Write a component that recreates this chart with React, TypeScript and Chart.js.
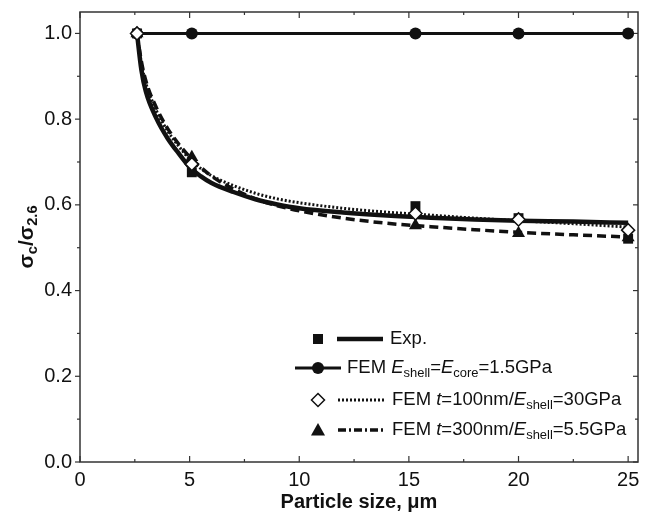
import { useEffect, useRef } from 'react';
import { Chart, registerables } from 'chart.js';

Chart.register(...registerables);

// ---- data ----
const pointX = [2.6, 5.1, 15.3, 20, 25];
const expY = [1.0, 0.676, 0.597, 0.569, 0.521];
const femUniformY = [1.0, 1.0, 1.0, 1.0, 1.0];
const fem100Y = [1.0, 0.695, 0.58, 0.566, 0.541];
const fem300Y = [1.0, 0.711, 0.552, 0.534, 0.524];

const curveX = [2.6, 2.8, 3.0, 3.5, 4.0, 4.5, 5.0, 5.5, 6, 7, 8, 9, 10, 12, 14, 16, 18, 20, 22.5, 25];
const expFitY = [1.0, 0.915, 0.865, 0.8, 0.755, 0.72, 0.688, 0.667, 0.651, 0.63, 0.613, 0.601, 0.592, 0.582, 0.575, 0.57, 0.566, 0.563, 0.561, 0.558];
const fem100FitY = [1.0, 0.93, 0.885, 0.818, 0.772, 0.737, 0.707, 0.685, 0.668, 0.645, 0.627, 0.614, 0.605, 0.592, 0.583, 0.576, 0.569, 0.563, 0.556, 0.548];
const fem300FitY = [1.0, 0.935, 0.89, 0.825, 0.778, 0.742, 0.712, 0.688, 0.667, 0.637, 0.614, 0.598, 0.586, 0.569, 0.557, 0.549, 0.542, 0.536, 0.53, 0.525];

const xMajorTicks = [0, 5, 10, 15, 20, 25];
const xMinorTicks = [2.5, 7.5, 12.5, 17.5, 22.5];
const yMajorTicks = [0, 0.2, 0.4, 0.6, 0.8, 1.0];
const yMinorTicks = [0.1, 0.3, 0.5, 0.7, 0.9];

type Seg = { t: string; i?: boolean; sub?: boolean };
const xTitle: Seg[] = [{ t: 'Particle size, \u03bcm' }];
const yTitle: Seg[] = [{ t: '\u03c3' }, { t: 'c', sub: true }, { t: '/\u03c3' }, { t: '2.6', sub: true }];
const legendExp: Seg[] = [{ t: 'Exp.' }];
const legendUniform: Seg[] = [
  { t: 'FEM ' }, { t: 'E', i: true }, { t: 'shell', sub: true }, { t: '=' },
  { t: 'E', i: true }, { t: 'core', sub: true }, { t: '=1.5GPa' },
];
const legend100: Seg[] = [
  { t: 'FEM ' }, { t: 't', i: true }, { t: '=100nm/' }, { t: 'E', i: true },
  { t: 'shell', sub: true }, { t: '=30GPa' },
];
const legend300: Seg[] = [
  { t: 'FEM ' }, { t: 't', i: true }, { t: '=300nm/' }, { t: 'E', i: true },
  { t: 'shell', sub: true }, { t: '=5.5GPa' },
];

const FONT = '"Liberation Sans", Arial, sans-serif';
const INK = '#111';
const AXIS = '#333';

const toXY = (xs: number[], ys: number[]) => xs.map((x, i) => ({ x, y: ys[i] }));

function drawRich(ctx: CanvasRenderingContext2D, segs: Seg[], x: number, y: number, size: number, bold: boolean, measureOnly = false) {
  let cx = x;
  for (const s of segs) {
    const fs = s.sub ? size * 0.7 : size;
    ctx.font = `${s.i ? 'italic ' : ''}${bold ? 'bold ' : ''}${fs}px ${FONT}`;
    if (!measureOnly) ctx.fillText(s.t, cx, s.sub ? y + size * 0.3 : y);
    cx += ctx.measureText(s.t).width;
  }
  return cx - x;
}

function marker(ctx: CanvasRenderingContext2D, kind: string, x: number, y: number) {
  ctx.beginPath();
  ctx.fillStyle = INK;
  ctx.strokeStyle = INK;
  ctx.lineWidth = 1.5;
  if (kind === 'square') {
    ctx.rect(x - 5, y - 5, 10, 10);
    ctx.fill();
  } else if (kind === 'circle') {
    ctx.arc(x, y, 6, 0, Math.PI * 2);
    ctx.fill();
  } else if (kind === 'diamond') {
    ctx.moveTo(x, y - 6.5); ctx.lineTo(x + 6.5, y); ctx.lineTo(x, y + 6.5); ctx.lineTo(x - 6.5, y); ctx.closePath();
    ctx.fillStyle = '#fff';
    ctx.fill();
    ctx.stroke();
  } else if (kind === 'triangle') {
    ctx.moveTo(x, y - 7); ctx.lineTo(x + 7, y + 5.5); ctx.lineTo(x - 7, y + 5.5); ctx.closePath();
    ctx.fill();
  }
}

function seg(ctx: CanvasRenderingContext2D, x1: number, x2: number, y: number, w: number, dash: number[]) {
  ctx.beginPath();
  ctx.setLineDash(dash);
  ctx.lineWidth = w;
  ctx.strokeStyle = INK;
  ctx.moveTo(x1, y);
  ctx.lineTo(x2, y);
  ctx.stroke();
  ctx.setLineDash([]);
}

const decor = {
  id: 'decor',
  beforeDatasetsDraw(chart: any) {
    const { ctx, chartArea: a, scales } = chart;
    const xs = scales.x, ys = scales.y;
    ctx.save();
    ctx.strokeStyle = AXIS;
    ctx.lineWidth = 1.5;
    ctx.strokeRect(a.left, a.top, a.right - a.left, a.bottom - a.top);
    ctx.lineWidth = 1.2;
    const tick = (x1: number, y1: number, x2: number, y2: number) => {
      ctx.beginPath(); ctx.moveTo(x1, y1); ctx.lineTo(x2, y2); ctx.stroke();
    };
    for (const v of xMajorTicks) {
      const px = xs.getPixelForValue(v);
      tick(px, a.bottom, px, a.bottom - 6);
      tick(px, a.top, px, a.top + 6);
    }
    for (const v of xMinorTicks) {
      const px = xs.getPixelForValue(v);
      tick(px, a.bottom, px, a.bottom - 3);
      tick(px, a.top, px, a.top + 3);
    }
    for (const v of yMajorTicks) {
      const py = ys.getPixelForValue(v);
      tick(a.left, py, a.left - 5, py);
      tick(a.right, py, a.right - 5, py);
    }
    for (const v of yMinorTicks) {
      const py = ys.getPixelForValue(v);
      tick(a.left, py, a.left - 3, py);
      tick(a.right, py, a.right - 3, py);
    }
    ctx.restore();
  },
  afterDraw(chart: any) {
    const { ctx, chartArea: a } = chart;
    ctx.save();
    ctx.fillStyle = INK;
    ctx.textBaseline = 'middle';
    ctx.textAlign = 'left';
    // x title
    const xw = drawRich(ctx, xTitle, 0, 0, 20, true, true);
    drawRich(ctx, xTitle, (a.left + a.right) / 2 - xw / 2, 502, 20, true);
    // y title
    ctx.save();
    ctx.translate(27, (a.top + a.bottom) / 2);
    ctx.rotate(-Math.PI / 2);
    const yw = drawRich(ctx, yTitle, 0, 0, 21, true, true);
    drawRich(ctx, yTitle, -yw / 2, 0, 21, true);
    ctx.restore();
    // legend
    const LS = 18.5;
    const r1 = 339, r2 = 368, r3 = 400, r4 = 430;
    marker(ctx, 'square', 318, r1);
    seg(ctx, 337, 383, r1, 4.5, []);
    ctx.fillStyle = INK;
    drawRich(ctx, legendExp, 390, r1, LS, false);
    seg(ctx, 295, 341, r2, 3, []);
    marker(ctx, 'circle', 318, r2);
    ctx.fillStyle = INK;
    drawRich(ctx, legendUniform, 347, r2, LS, false);
    marker(ctx, 'diamond', 318, r3);
    seg(ctx, 338, 384, r3, 3, [2, 2]);
    ctx.fillStyle = INK;
    drawRich(ctx, legend100, 392, r3, LS, false);
    marker(ctx, 'triangle', 318, r4);
    seg(ctx, 338, 384, r4, 3.5, [8, 3, 2, 3]);
    ctx.fillStyle = INK;
    drawRich(ctx, legend300, 392, r4, LS, false);
    ctx.restore();
  },
};

export default function App() {
  const ref = useRef<HTMLCanvasElement | null>(null);
  useEffect(() => {
    document.body.style.margin = '0';
    const canvas = ref.current!;
    const chart = new Chart(canvas, {
      type: 'scatter',
      data: {
        datasets: [
          {
            label: 'Exp. points', data: toXY(pointX, expY), showLine: false,
            pointStyle: 'rect', pointRadius: 7, backgroundColor: INK, borderColor: INK, borderWidth: 0, order: 1,
          },
          {
            label: 'FEM 100 points', data: toXY(pointX, fem100Y), showLine: false,
            pointStyle: 'rectRot', pointRadius: 6.5, backgroundColor: '#fff', borderColor: INK, borderWidth: 1.5, order: 0,
          },
          {
            label: 'FEM 300 points', data: toXY(pointX, fem300Y), showLine: false,
            pointStyle: 'triangle', pointRadius: 7.5, backgroundColor: INK, borderColor: INK, borderWidth: 0, order: 2,
          },
          {
            label: 'Exp. fit', data: toXY(curveX, expFitY), showLine: true, cubicInterpolationMode: 'monotone',
            borderColor: INK, borderWidth: 4.5, pointRadius: 0, order: 5,
          },
          {
            label: 'FEM 100 fit', data: toXY(curveX, fem100FitY), showLine: true, cubicInterpolationMode: 'monotone',
            borderColor: INK, borderWidth: 3, borderDash: [2, 2], pointRadius: 0, order: 4,
          },
          {
            label: 'FEM 300 fit', data: toXY(curveX, fem300FitY), showLine: true, cubicInterpolationMode: 'monotone',
            borderColor: INK, borderWidth: 3.5, borderDash: [9, 5], pointRadius: 0, order: 6,
          },
          {
            label: 'FEM uniform', data: toXY(pointX, femUniformY), showLine: true,
            borderColor: INK, borderWidth: 3, pointStyle: 'circle', pointRadius: 6,
            backgroundColor: INK, pointBorderWidth: 0, order: 3,
          },
        ],
      } as any,
      options: {
        animation: false,
        responsive: false,
        layout: { padding: { top: 12, right: 2, left: 0, bottom: 0 } },
        plugins: { legend: { display: false }, tooltip: { enabled: false } },
        scales: {
          x: {
            type: 'linear', min: 0, max: 25.45,
            grid: { display: false, drawTicks: false },
            border: { display: false },
            afterBuildTicks: (s: any) => { s.ticks = xMajorTicks.map((v) => ({ value: v })); },
            afterFit: (s: any) => { s.height = 59; s.paddingLeft = 0; s.paddingRight = 0; },
            ticks: {
              padding: 6, color: INK, maxRotation: 0, autoSkip: false,
              font: { family: FONT, size: 20 },
              callback: (v: any) => String(v),
            },
          },
          y: {
            type: 'linear', min: 0, max: 1.05,
            grid: { display: false, drawTicks: false },
            border: { display: false },
            afterBuildTicks: (s: any) => { s.ticks = yMajorTicks.map((v) => ({ value: v })); },
            afterFit: (s: any) => { s.width = 80; s.paddingTop = 0; s.paddingBottom = 0; },
            ticks: {
              padding: 8, color: INK, autoSkip: false,
              font: { family: FONT, size: 20 },
              callback: (v: any) => Number(v).toFixed(1),
            },
          },
        },
      },
      plugins: [decor],
    });
    return () => chart.destroy();
  }, []);
  return <canvas ref={ref} width={646} height={521} style={{ display: 'block' }} />;
}
